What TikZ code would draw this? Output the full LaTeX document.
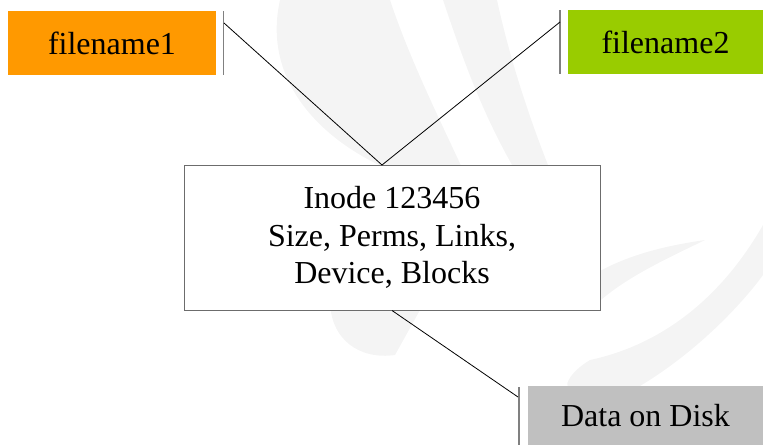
\documentclass[tikz,border=0pt]{standalone}
\usepackage{fontspec}
\setmainfont{Liberation Serif}
\definecolor{fnorange}{HTML}{FF9900}
\definecolor{fngreen}{HTML}{99CC00}
\definecolor{diskgray}{HTML}{C0C0C0}
\definecolor{wmark}{HTML}{F4F4F4}
\begin{document}
\begin{tikzpicture}[x=1pt,y=-1pt,
  namebox/.style={rectangle, inner sep=0pt, font=\fontsize{32}{37.5}\selectfont},
  bar/.style={draw=gray, line width=1.8pt},
  link/.style={draw=black, line width=0.8pt}]
\useasboundingbox (0,0) rectangle (763,445);
% faint watermark
\fill[wmark] (280,0) -- (390,0) .. controls (410,60) and (440,120) .. (463,170)
  -- (390,170) .. controls (320,140) and (262,80) .. (280,0) -- cycle;
\fill[wmark] (443,0) -- (497,0) .. controls (510,60) and (530,120) .. (550,170)
  -- (515,170) .. controls (480,110) and (460,50) .. (443,0) -- cycle;
\fill[wmark] (330,300) .. controls (330,340) and (360,360) .. (395,355)
  -- (420,310) -- cycle;
\fill[wmark] (560,300) .. controls (600,262) and (650,248) .. (705,240)
  .. controls (660,262) and (620,280) .. (590,310) -- cycle;
\fill[wmark] (763,225) .. controls (720,300) and (660,345) .. (590,360)
  .. controls (570,372) and (565,385) .. (568,386)
  -- (640,386) .. controls (700,350) and (745,300) .. (763,275) -- cycle;
% nodes
\node[namebox, fill=fnorange, minimum width=208pt, minimum height=64pt] (f1) at (112,43) {filename1};
\node[namebox, fill=fngreen, minimum width=195pt, minimum height=64pt] (f2) at (665.5,42) {filename2};
\node[namebox, draw=gray!85!black, line width=1pt, fill=white, minimum width=416pt, minimum height=145pt, align=center] (inode) at (392,237.5) {Inode 123456\\Size, Perms, Links,\\Device, Blocks};
\node[namebox, fill=diskgray, minimum width=235pt, minimum height=59pt] (disk) at (645.5,415.5) {Data on Disk};
% bars
\coordinate (b1t) at (223.5,11); \coordinate (b1b) at (223.5,75);
\coordinate (b2t) at (560,10); \coordinate (b2b) at (560,74);
\coordinate (b3t) at (519,387); \coordinate (b3b) at (519,445);
\draw[bar] (b1t) -- (b1b);
\draw[bar] (b2t) -- (b2b);
\draw[bar] (b3t) -- (b3b);
% connectors
\coordinate (c1) at (224,23);
\coordinate (c2) at (560,22);
\coordinate (c3) at (518,397);
\coordinate (meet) at (382,165);
\draw[link] (c1) -- (meet);
\draw[link] (c2) -- (meet);
\draw[link] (inode.south) -- (c3);
\end{tikzpicture}
\end{document}
